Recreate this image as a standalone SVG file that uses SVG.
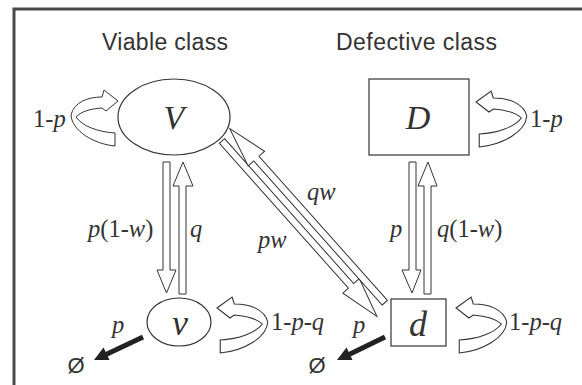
<svg xmlns="http://www.w3.org/2000/svg" width="582" height="385" viewBox="0 0 582 385">
<style>
.frame{fill:none;stroke:#4a4a4a;stroke-width:3}
.node{fill:#fff;stroke:#333;stroke-width:1.2}
.title{font-family:"Liberation Sans",Arial,sans-serif;font-size:23px;fill:#333}
.nl{font-family:"Liberation Serif","Times New Roman",serif;font-style:italic;fill:#333;text-anchor:middle}
.lbl{font-family:"Liberation Serif","Times New Roman",serif;font-size:24.5px;fill:#333}
.it{font-style:italic}
.hollow{fill:#fff;stroke:#333;stroke-width:1}
.loop{fill:#fff;stroke:#333;stroke-width:1}
.sink{stroke:#222;stroke-width:5;fill:none}
.sinkhead{fill:#222}
.null{font-family:"Liberation Sans",Arial,sans-serif;font-size:22px;fill:#333;text-anchor:middle}
</style>
<defs>
<path id="loopR" d="M0,0 L-14,-11 L-16,-4 C-30,-4 -44,1 -47,14 C-46,30 -24,43 -3,45 L-3,32 C-20,31 -36,25 -42,16 C-36,10 -28,8 -16,7 L-12,10 Z"/>
</defs>
<rect class="frame" x="14" y="9" width="600" height="400"/>
<text class="title" x="102" y="50" textLength="126">Viable class</text>
<text class="title" x="336" y="50" textLength="161">Defective class</text>

<g id="connectors">
<!-- V <-> v -->
<path class="hollow" d="M163,162 L163,270 L157,270 L166.5,293 L176,270 L170,270 L170,162 Z"/>
<path class="hollow" d="M179,294 L179,186 L173,186 L183,162 L193,186 L186,186 L186,294 Z"/>
<!-- D <-> d -->
<path class="hollow" d="M409,162 L409,270 L402,270 L412,293 L421,270 L416,270 L416,162 Z"/>
<path class="hollow" d="M424,294 L424,186 L418,186 L428,162 L437,186 L431,186 L431,294 Z"/>
<!-- V <-> d diagonal -->
<g transform="translate(222,141) rotate(48.3)">
<path class="hollow" d="M0,-3.5 L194,-3.5 L194,-11 L234,1 L194,11 L194,3.5 L0,3.5 Z"/>
<path class="hollow" d="M229,-17.5 L36,-17.5 L36,-25 L-4,-14 L36,-3 L36,-10.5 L229,-10.5 Z"/>
</g>
<!-- self loops -->
<use href="#loopR" class="loop" transform="translate(118,101)"/>
<use href="#loopR" class="loop" transform="translate(476,102) scale(-1.08,1)"/>
<use href="#loopR" class="loop" transform="translate(217,308) scale(-1.08,1)"/>
<use href="#loopR" class="loop" transform="translate(456,308) scale(-1.08,1)"/>
<!-- sinks -->
<line class="sink" x1="143" y1="337" x2="106" y2="354.5"/>
<polygon class="sinkhead" points="94,360 109.5,360 103.5,347.5"/>
<line class="sink" x1="385" y1="337" x2="349" y2="354.5"/>
<polygon class="sinkhead" points="337,360 352.5,360 346.5,347.5"/>
</g>

<g id="node-V">
<ellipse class="node" cx="174" cy="117" rx="56" ry="38"/>
<text class="nl" x="174" y="129" font-size="34">V</text>
</g>
<g id="node-D">
<rect class="node" x="369" y="79" width="100" height="76"/>
<text class="nl" x="418" y="129" font-size="34">D</text>
</g>
<g id="node-v">
<ellipse class="node" cx="179" cy="322" rx="32" ry="24"/>
<text class="nl" x="180" y="335" font-size="36">v</text>
</g>
<g id="node-d">
<rect class="node" x="391" y="299" width="55" height="47"/>
<text class="nl" x="418" y="336" font-size="36">d</text>
</g>
<g id="null-left"><text class="null" x="76" y="373">Ø</text></g>
<g id="null-right"><text class="null" x="317" y="373">Ø</text></g>

<g id="labels">
<text class="lbl" x="33" y="127">1-<tspan class="it">p</tspan></text>
<text class="lbl" x="530" y="127">1-<tspan class="it">p</tspan></text>
<text class="lbl" x="88" y="237"><tspan class="it">p</tspan>(1-<tspan class="it">w</tspan>)</text>
<text class="lbl" x="190" y="237"><tspan class="it">q</tspan></text>
<text class="lbl" x="258" y="248"><tspan class="it">pw</tspan></text>
<text class="lbl" x="307" y="200"><tspan class="it">qw</tspan></text>
<text class="lbl" x="390" y="237"><tspan class="it">p</tspan></text>
<text class="lbl" x="437" y="237"><tspan class="it">q</tspan>(1-<tspan class="it">w</tspan>)</text>
<text class="lbl" x="112" y="333"><tspan class="it">p</tspan></text>
<text class="lbl" x="271" y="330">1-<tspan class="it">p</tspan>-<tspan class="it">q</tspan></text>
<text class="lbl" x="353" y="333"><tspan class="it">p</tspan></text>
<text class="lbl" x="509" y="330">1-<tspan class="it">p</tspan>-<tspan class="it">q</tspan></text>
</g>
</svg>
